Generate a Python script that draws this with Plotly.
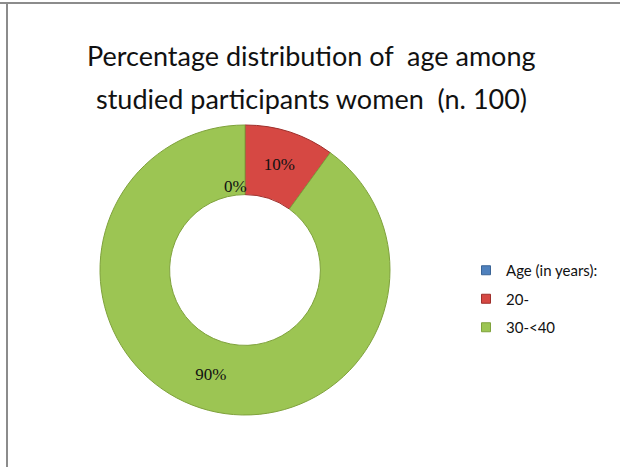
import plotly.graph_objects as go

title_lines = ["Percentage distribution of  age among", "studied participants women  (n. 100)"]
categories = ["Age (in years):", "20-", "30-<40"]
values = [0, 10, 90]
colors = ["#4F81BD", "#D64843", "#9CC553"]
line_colors = ["#3A6496", "#9E2F2B", "#7FA23C"]

W, H = 620, 467
cx, cy, r = 245, 270, 145

fig = go.Figure()
fig.add_trace(go.Pie(
    labels=categories,
    values=values,
    hole=0.52,
    sort=False,
    direction="clockwise",
    rotation=0,
    marker=dict(colors=colors, line=dict(color=line_colors, width=1)),
    texttemplate="%{percent:.0%}",
    textposition="inside",
    insidetextorientation="horizontal",
    textfont=dict(family="Liberation Serif", size=17, color="#111111"),
    domain=dict(x=[(cx - r) / W, (cx + r) / W], y=[1 - (cy + r) / H, 1 - (cy - r) / H]),
    showlegend=False,
    hoverinfo="label+percent",
))

# legend entries (one per category) with spaced rows
for i, (cat, col, lc) in enumerate(zip(categories, colors, line_colors)):
    fig.add_trace(go.Scatter(
        x=[None], y=[None], mode="markers", name=cat, legendgroup=f"g{i}",
        marker=dict(symbol="square", size=9, color=col, line=dict(color=lc, width=1)),
        hoverinfo="skip",
    ))

zero_pct = f"{values[0] / sum(values):.0%}"

title_y = [55, 98]
annotations = [
    dict(text=line, xref="paper", yref="paper", x=311 / W, y=1 - yy / H,
         xanchor="center", yanchor="middle", showarrow=False,
         font=dict(family="Lato", size=27, color="#111111"))
    for line, yy in zip(title_lines, title_y)
]
annotations.append(dict(text=zero_pct, xref="paper", yref="paper",
                        x=(cx - 9) / W, y=1 - 186 / H, showarrow=False,
                        font=dict(family="Liberation Serif", size=17, color="#111111")))

fig.update_layout(
    width=W, height=H,
    margin=dict(l=0, r=0, t=0, b=0),
    paper_bgcolor="white",
    plot_bgcolor="white",
    xaxis=dict(visible=False),
    yaxis=dict(visible=False),
    legend=dict(x=466 / W, y=1 - 254 / H, xanchor="left", yanchor="top",
                font=dict(family="Lato", size=15, color="#111111"),
                bgcolor="rgba(0,0,0,0)", tracegroupgap=6, itemwidth=30),
    annotations=annotations,
    shapes=[
        dict(type="line", xref="paper", yref="paper", x0=0, x1=1, y0=1 - 3 / H, y1=1 - 3 / H,
             line=dict(color="#8C8C8C", width=2)),
        dict(type="line", xref="paper", yref="paper", x0=7 / W, x1=7 / W, y0=0, y1=1 - 3 / H,
             line=dict(color="#8C8C8C", width=2)),
    ],
)

fig.write_html("out.html")
